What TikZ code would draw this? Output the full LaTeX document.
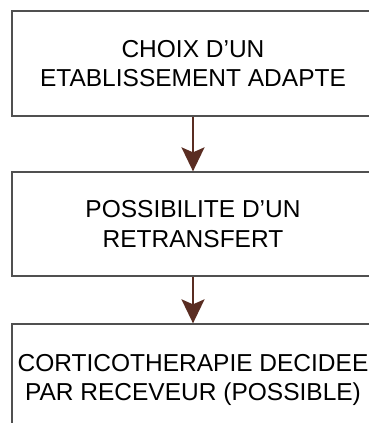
\documentclass[tikz,border=0pt]{standalone}
\usepackage{fontspec}
\setmainfont{Liberation Sans}
\usetikzlibrary{arrows.meta}
\definecolor{boxline}{HTML}{505050}
\definecolor{arrowc}{HTML}{5A2D22}
\begin{document}
\begin{tikzpicture}[x=1pt,y=-1pt,
  stepbox/.style={draw=boxline,line width=1.3pt,rectangle,minimum width=362pt,align=center,
    inner sep=0pt,font=\fontsize{24.5}{29.5}\selectfont},
  flowarrow/.style={draw=arrowc,line width=2pt,-{Stealth[length=24pt,width=23pt,inset=5pt]}}]
\useasboundingbox (0,0) rectangle (369,423);
\clip (0,0) rectangle (369,423);
\node[stepbox,minimum height=105pt] (a) at (193,63.5) {CHOIX D’UN\\ETABLISSEMENT ADAPTE};
\node[stepbox,minimum height=104pt] (b) at (193,224) {POSSIBILITE D’UN\\RETRANSFERT};
\node[stepbox,minimum height=112pt] (c) at (193,380) {CORTICOTHERAPIE DECIDEE\\PAR RECEVEUR (POSSIBLE)};
\draw[flowarrow] (a.south) -- (b.north);
\draw[flowarrow] (b.south) -- (c.north);
\end{tikzpicture}
\end{document}
